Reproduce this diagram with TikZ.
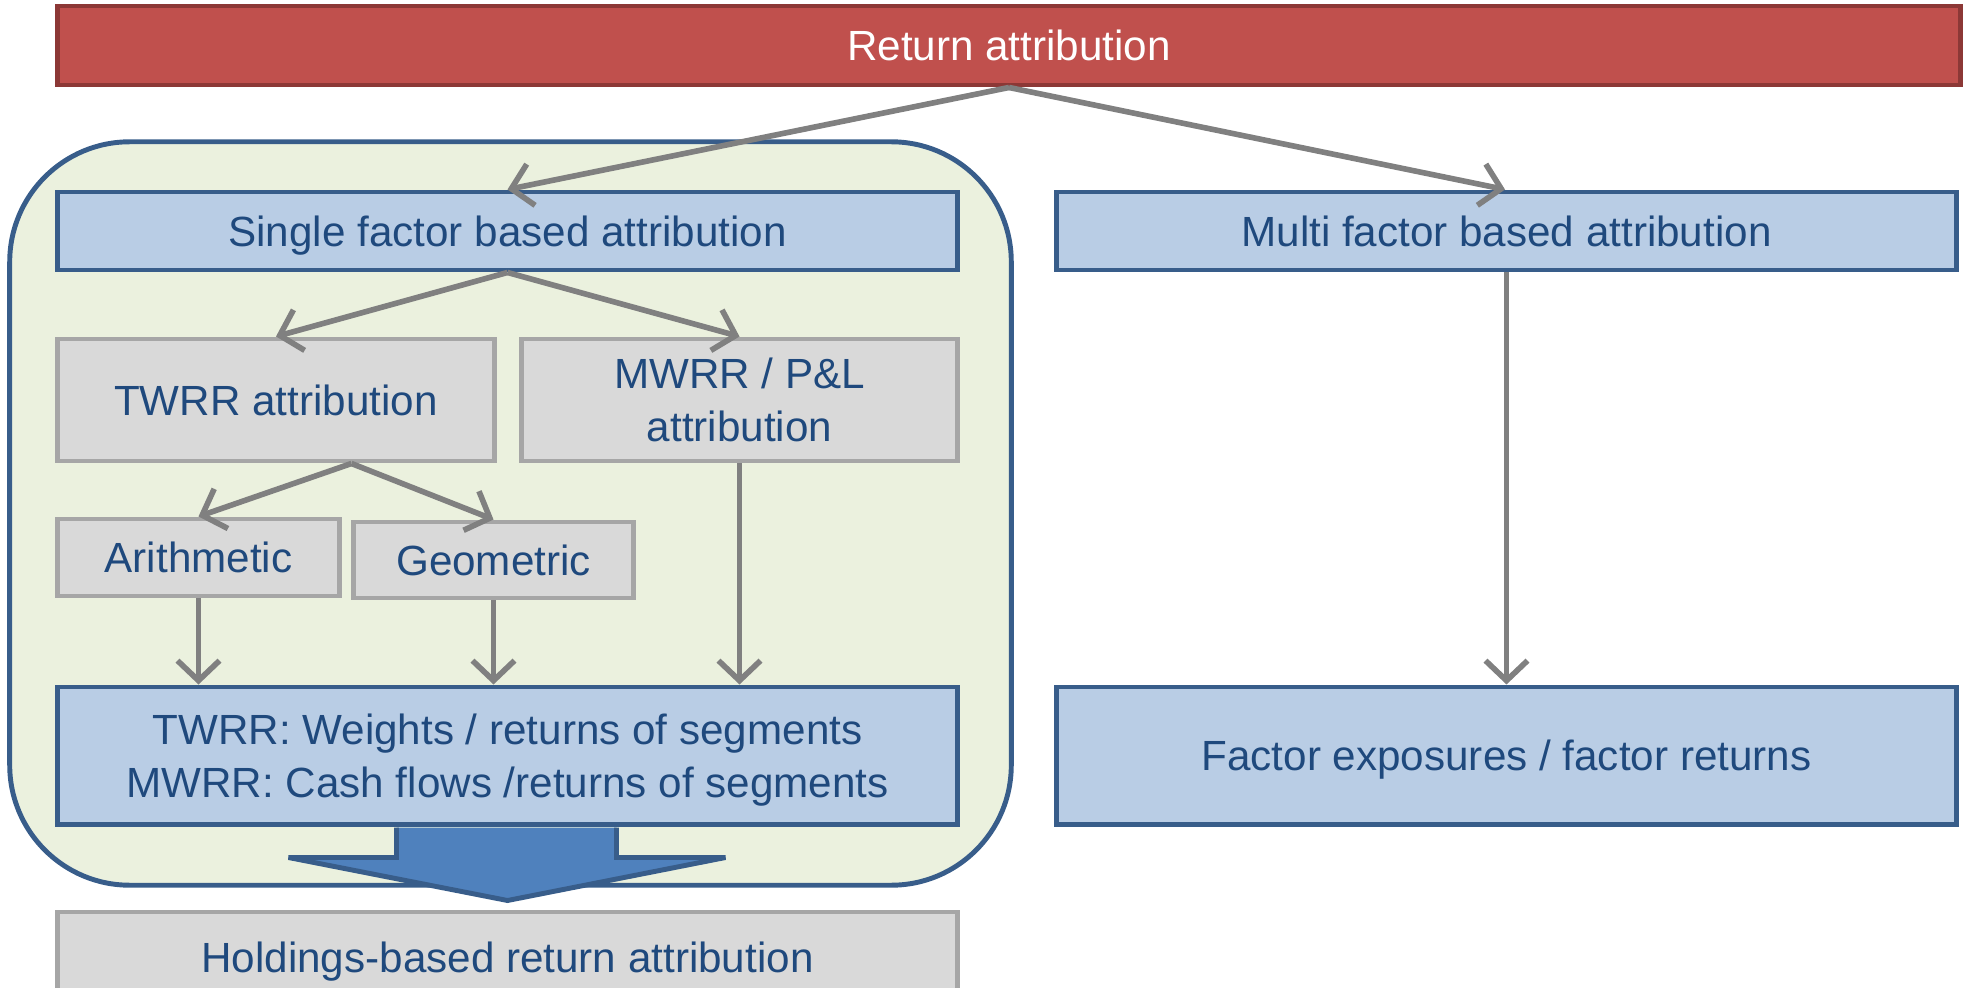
\documentclass[tikz,border=0pt]{standalone}
\usepackage{fontspec}
\setmainfont{Liberation Sans}
\usepackage{xcolor}
\usetikzlibrary{arrows.meta,positioning,calc}
\definecolor{topcolor}{RGB}{192,80,77}
\definecolor{topborder}{RGB}{140,56,54}
\definecolor{bluefill}{RGB}{185,205,229}
\definecolor{blueborder}{RGB}{56,93,138}
\definecolor{textcolor}{RGB}{31,73,125}
\definecolor{grayfill}{RGB}{217,217,217}
\definecolor{grayborder}{RGB}{166,166,166}
\definecolor{groupfill}{RGB}{235,241,222}
\definecolor{bigarrow}{RGB}{79,129,189}
\definecolor{linecolor}{RGB}{128,128,128}

\begin{document}
\begin{tikzpicture}[
    x=0.01cm, y=-0.01cm,
    box/.style={
        rectangle, inner sep=0pt, align=center, text depth=0pt,
        font=\fontsize{12}{15}\selectfont, text=textcolor
    },
    topbox/.style={box, draw=topborder, fill=topcolor, text=white, line width=1.4pt},
    bluebox/.style={box, draw=blueborder, fill=bluefill, line width=1.4pt},
    graybox/.style={box, draw=grayborder, fill=grayfill, line width=1.4pt},
    arrow/.style={-{Straight Barb[length=2mm,width=4.2mm]}, draw=linecolor, line width=1.6pt}
]
\useasboundingbox (0,0) rectangle (1966,988);

% Group background
\node[draw=blueborder, fill=groupfill, line width=1.4pt, rounded corners=1.2cm,
      minimum width=10.01cm, minimum height=7.43cm, inner sep=0pt] (group) at (510.5,513.5) {};

% Top level
\node[topbox, minimum width=19.02cm, minimum height=0.79cm] (top) at (1009,45.5) {Return attribution};

% Second level
\node[bluebox, minimum width=8.99cm, minimum height=0.78cm] (single) at (507.5,231) {Single factor based attribution};
\node[bluebox, minimum width=8.99cm, minimum height=0.78cm] (multi) at (1506.5,231) {Multi factor based attribution};

% Single factor branches
\node[graybox, minimum width=4.36cm, minimum height=1.22cm] (twrr) at (276,400) {TWRR attribution};
\node[graybox, minimum width=4.35cm, minimum height=1.22cm] (mwrr) at (739.5,400) {MWRR / P\&L\\attribution};
\node[graybox, minimum width=2.81cm, minimum height=0.77cm] (arith) at (198.5,557.5) {Arithmetic};
\node[graybox, minimum width=2.79cm, minimum height=0.76cm] (geo) at (493.5,560) {Geometric};

% Inputs
\node[bluebox, minimum width=8.99cm, minimum height=1.37cm] (segs) at (507.5,755.5) {TWRR: Weights / returns of segments\\MWRR: Cash flows /returns of segments};
\node[bluebox, minimum width=8.99cm, minimum height=1.37cm] (factors) at (1506.5,755.5) {Factor exposures / factor returns};

% Result
\node[graybox, minimum width=8.99cm, minimum height=0.9cm] (holdings) at (507.5,957) {Holdings-based return attribution};

% Big arrow
\draw[blueborder, fill=bigarrow, line width=1.4pt]
    ($(segs.south)+(-111,1)$) -- ($(segs.south)+(-111,31)$) -- ($(segs.south)+(-219,31)$)
    -- ($(segs.south)+(0,74)$) -- ($(segs.south)+(218,31)$) -- ($(segs.south)+(109,31)$)
    -- ($(segs.south)+(109,1)$);

% Arrows
\draw[arrow] (top.south) -- (single.north);
\draw[arrow] (top.south) -- (multi.north -| 1505,0);
\draw[arrow] (single.south) -- (twrr.north);
\draw[arrow] (single.south) -- (mwrr.north);
\draw[arrow] (twrr.south -| geo.west) -- (arith.north);
\draw[arrow] (twrr.south -| geo.west) -- (geo.north);
\draw[arrow] (arith.south) -- (segs.north -| arith.south);
\draw[arrow] (geo.south) -- (segs.north -| geo.south);
\draw[arrow] (mwrr.south) -- (segs.north -| mwrr.south);
\draw[arrow] (multi.south) -- (factors.north);

\end{tikzpicture}
\end{document}
